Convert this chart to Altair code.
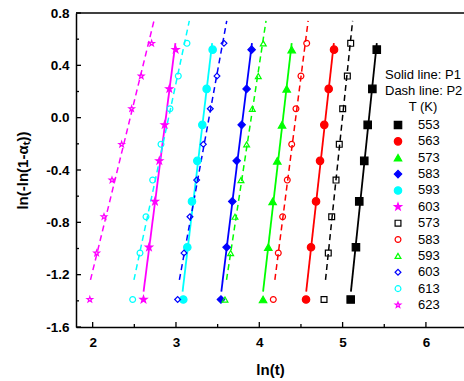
import altair as alt
import pandas as pd

# ---------------- data ----------------
y_levels_p1 = [-1.39, -0.99, -0.64, -0.33, -0.055, 0.22, 0.52]
y_levels_p2 = [-1.39, -1.035, -0.757, -0.477, -0.204, 0.068, 0.318, 0.568]

temps_p1 = ["553", "563", "573", "583", "593", "603"]
temps_p2 = ["573", "583", "593", "603", "613", "623"]

# P1 (solid line, filled symbols): ln(t) values, bottom to top
x_p1_553 = [5.097, 5.160, 5.200, 5.260, 5.301, 5.357, 5.410]
x_p1_563 = [4.561, 4.621, 4.681, 4.729, 4.780, 4.833, 4.897]
x_p1_573 = [4.045, 4.108, 4.160, 4.216, 4.273, 4.329, 4.389]
x_p1_583 = [3.540, 3.608, 3.676, 3.728, 3.788, 3.848, 3.908]
x_p1_593 = [3.088, 3.136, 3.192, 3.256, 3.316, 3.368, 3.440]
x_p1_603 = [2.610, 2.676, 2.748, 2.800, 2.864, 2.920, 2.996]

# P2 (dash line, open symbols)
x_p2_573 = [4.777, 4.828, 4.869, 4.921, 4.960, 5.001, 5.057, 5.097]
x_p2_583 = [4.168, 4.228, 4.280, 4.336, 4.389, 4.440, 4.500, 4.569]
x_p2_593 = [3.588, 3.656, 3.708, 3.780, 3.848, 3.916, 3.988, 4.048]
x_p2_603 = [3.020, 3.096, 3.168, 3.248, 3.328, 3.412, 3.492, 3.576]
x_p2_613 = [2.480, 2.568, 2.640, 2.720, 2.820, 2.928, 3.028, 3.132]
x_p2_623 = [1.966, 2.048, 2.136, 2.232, 2.348, 2.468, 2.583, 2.708]

STAR = ("M0,-1L0.235,-0.324L0.951,-0.309L0.38,0.124L0.588,0.809L0,0.4"
        "L-0.588,0.809L-0.38,0.124L-0.951,-0.309L-0.235,-0.324Z")

series_colors = ["#000000", "#FF0000", "#00FF00", "#0000FF", "#00FFFF", "#FF00FF"]
series_shapes = ["square", "circle", "triangle-up", "diamond", "circle", STAR]

x_major = [2, 3, 4, 5, 6]
x_minor = [2.5, 3.5, 4.5, 5.5]
y_major = [-1.6, -1.2, -0.8, -0.4, 0.0, 0.4, 0.8]
y_minor = [-1.4, -1.0, -0.6, -0.2, 0.2, 0.6]

legend_head = ["Solid line: P1", "Dash line: P2", "T (K)"]

# ---------------- build tables ----------------
p1_x = [x_p1_553, x_p1_563, x_p1_573, x_p1_583, x_p1_593, x_p1_603]
p2_x = [x_p2_573, x_p2_583, x_p2_593, x_p2_603, x_p2_613, x_p2_623]
rows = []
for t, xs in zip(temps_p1, p1_x):
    for xv, yv in zip(xs, y_levels_p1):
        rows.append({"key": "P1_" + t, "part": "P1", "x": xv, "y": yv})
for t, xs in zip(temps_p2, p2_x):
    for xv, yv in zip(xs, y_levels_p2):
        rows.append({"key": "P2_" + t, "part": "P2", "x": xv, "y": yv})
df = pd.DataFrame(rows)

keys = ["P1_" + t for t in temps_p1] + ["P2_" + t for t in temps_p2]
leg_df = pd.DataFrame({
    "key": keys,
    "part": [k[:2] for k in keys],
    "label": temps_p1 + temps_p2,
    "row": list(range(len(keys))),
})
head_df = pd.DataFrame({"text": legend_head, "row": [-3.07, -2.05, -1.13],
                        "al": ["left", "left", "center"]})

W, H = 388, 314
FONT = "Liberation Sans"

xscale = alt.Scale(domain=[1.80, 6.457], nice=False, zero=False)
yscale = alt.Scale(domain=[-1.6, 0.8], nice=False, zero=False)

stroke_scale = alt.Scale(domain=keys, range=series_colors * 2)
fill_scale = alt.Scale(domain=keys, range=series_colors + ["transparent"] * 6)
shape_scale = alt.Scale(domain=keys, range=series_shapes * 2)

x_axis = alt.Axis(
    values=x_major, format="d", ticks=False, grid=False,
    labelFont=FONT, labelFontSize=13.5, labelFontWeight="bold", labelColor="black",
    labelPadding=8, domainColor="black", domainWidth=1.5,
    title="ln(t)", titleFont=FONT, titleFontSize=15, titleFontWeight="bold",
    titleColor="black", titleY=42, titleBaseline="middle")
y_axis = alt.Axis(
    values=y_major,
    labelExpr="(datum.value < 0 ? '-' : '') + format(abs(datum.value), '.1f')",
    ticks=False, grid=False,
    labelFont=FONT, labelFontSize=13.5, labelFontWeight="bold", labelColor="black",
    labelPadding=7, domainColor="black", domainWidth=1.5,
    title="ln(-ln(1-α\u209c))", titleFont=FONT, titleFontSize=15, titleFontWeight="bold",
    titleColor="black", titleX=-54, titleY=H / 2, titleAngle=270,
    titleBaseline="middle", titleAlign="center")

x_enc = alt.X("x:Q", scale=xscale, axis=x_axis)
y_enc = alt.Y("y:Q", scale=yscale, axis=y_axis)

base = alt.Chart(df)

solid = base.transform_filter("datum.part == 'P1'").transform_regression(
    "y", "x", groupby=["key"], extent=[-1.33, 0.57]
).mark_line(strokeWidth=1.8).encode(
    x=x_enc, y=y_enc, color=alt.Color("key:N", scale=stroke_scale, legend=None))

dashed = base.transform_filter("datum.part == 'P2'").transform_regression(
    "y", "x", groupby=["key"], extent=[-1.24, 0.74]
).mark_line(strokeWidth=1.5, strokeDash=[6, 4]).encode(
    x=x_enc, y=y_enc, color=alt.Color("key:N", scale=stroke_scale, legend=None))

sym_enc = dict(
    stroke=alt.Stroke("key:N", scale=stroke_scale, legend=None),
    fill=alt.Fill("key:N", scale=fill_scale, legend=None),
    shape=alt.Shape("key:N", scale=shape_scale, legend=None),
)
points_p1 = base.transform_filter("datum.part == 'P1'").mark_point(
    opacity=1, strokeWidth=1.2, size=55).encode(x=x_enc, y=y_enc, **sym_enc)
points_p2 = base.transform_filter("datum.part == 'P2'").mark_point(
    opacity=1, strokeWidth=1.2, size=34).encode(x=x_enc, y=y_enc, **sym_enc)

# inward ticks (same field names so axes merge cleanly)
def xticks(vals, length):
    return alt.Chart(pd.DataFrame({"x": vals})).mark_rule(color="black", strokeWidth=1.3).encode(
        x=x_enc, y=alt.value(H), y2=alt.value(H - length))

def yticks(vals, length):
    return alt.Chart(pd.DataFrame({"y": vals})).mark_rule(color="black", strokeWidth=1.3).encode(
        y=y_enc, x=alt.value(0), x2=alt.value(length))

top_border = alt.Chart(pd.DataFrame({"x": [0]})).mark_rule(color="black", strokeWidth=1.5).encode(
    x=alt.value(0), x2=alt.value(W), y=alt.value(0))

main = alt.layer(
    solid, dashed, points_p1, points_p2,
    xticks(x_major, 5), xticks(x_minor, 3), yticks(y_major, 5), yticks(y_minor, 3),
    top_border,
)

# ---------------- legend (inside the plot, top right) ----------------
row_scale = alt.Scale(domain=[0, 11], range=[112, 292], nice=False, zero=False)
row_enc = alt.Y("row:Q", scale=row_scale, axis=None)
leg_base = alt.Chart(leg_df)
leg_p1 = leg_base.transform_filter("datum.part == 'P1'").mark_point(
    opacity=1, strokeWidth=1.2, size=55).encode(x=alt.value(322), y=row_enc, **sym_enc)
leg_p2 = leg_base.transform_filter("datum.part == 'P2'").mark_point(
    opacity=1, strokeWidth=1.2, size=34).encode(x=alt.value(322), y=row_enc, **sym_enc)
leg_txt = leg_base.mark_text(align="left", baseline="middle", font=FONT, fontSize=13,
                             color="black").encode(x=alt.value(342), y=row_enc, text="label:N")
head_left = alt.Chart(head_df).transform_filter("datum.al == 'left'").mark_text(
    align="left", baseline="middle", font=FONT, fontSize=13, color="black"
).encode(x=alt.value(309), y=row_enc, text="text:N")
head_center = alt.Chart(head_df).transform_filter("datum.al == 'center'").mark_text(
    align="center", baseline="middle", font=FONT, fontSize=13, color="black"
).encode(x=alt.value(347), y=row_enc, text="text:N")

legend = alt.layer(leg_p1, leg_p2, leg_txt, head_left, head_center)

chart = alt.layer(main, legend).resolve_scale(y="independent").properties(
    width=W, height=H,
    autosize=alt.AutoSizeParams(type="none"),
    padding={"left": 76, "top": 13, "right": 0, "bottom": 54},
).configure_view(stroke=None)

chart.save("out.html", embed_options={"renderer": "svg", "actions": False})
